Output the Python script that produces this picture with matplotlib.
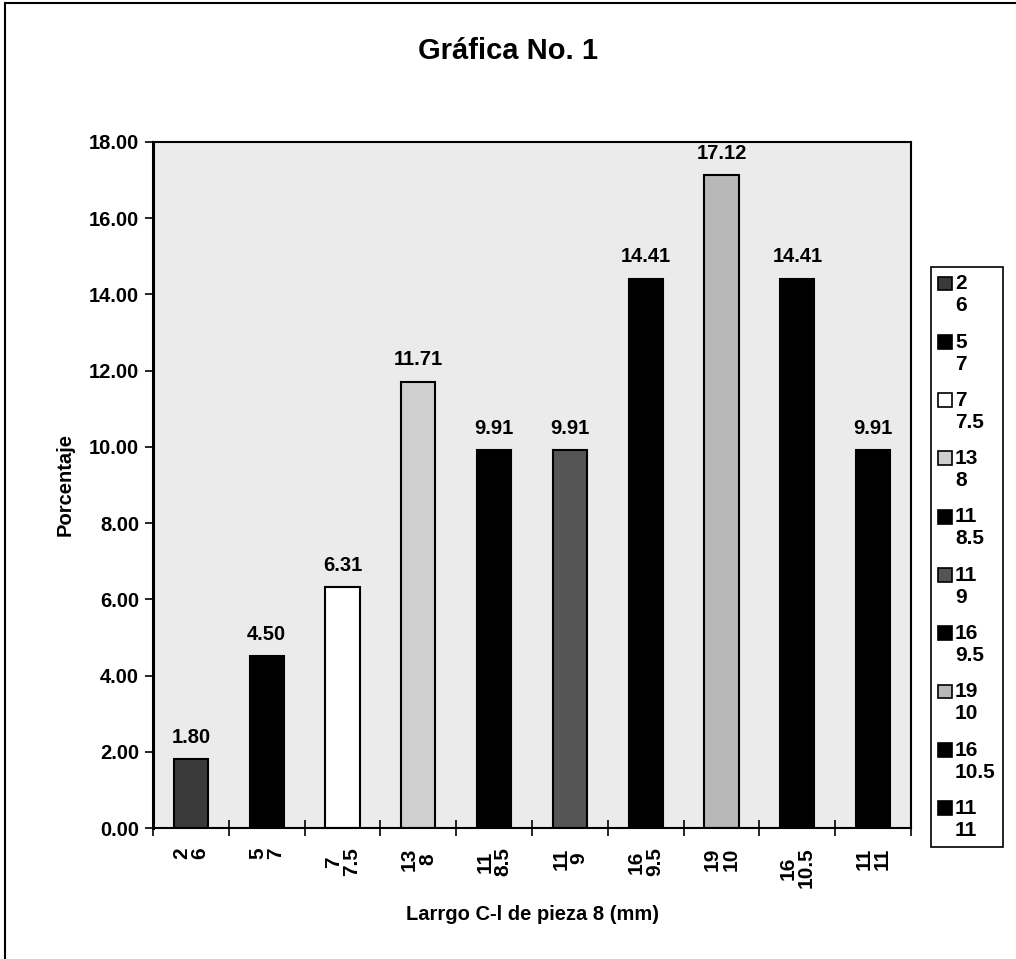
import matplotlib
matplotlib.use("Agg")
import matplotlib.pyplot as plt
from matplotlib.patches import Patch, Rectangle
from matplotlib.legend_handler import HandlerPatch
from matplotlib.lines import Line2D
import numpy as np

plt.rcParams["font.family"] = ["Liberation Sans", "DejaVu Sans"]
plt.rcParams["font.weight"] = "bold"

# frequency (first line) and length in mm (second line)
freq = ["2", "5", "7", "13", "11", "11", "16", "19", "16", "11"]
length = ["6", "7", "7.5", "8", "8.5", "9", "9.5", "10", "10.5", "11"]
pct = [1.80, 4.50, 6.31, 11.71, 9.91, 9.91, 14.41, 17.12, 14.41, 9.91]

fills = ["#3a3a3a", "black", "white", "#cfcfcf", "black",
         "#555555", "black", "#b8b8b8", "black", "black"]
labels = [f"{f}\n{l}" for f, l in zip(freq, length)]

FS = 14.5

fig = plt.figure(figsize=(10.16, 9.59), dpi=100)
ax = fig.add_axes([0.1506, 0.1366, 0.7461, 0.7154])
ax.set_facecolor("#ebebeb")

x = np.arange(len(pct))
bars = ax.bar(x, pct, width=0.45, color=fills, edgecolor="black", linewidth=1.5)
for b, v in zip(bars, pct):
    ax.text(b.get_x() + b.get_width() / 2, v + 0.33, f"{v:.2f}",
            ha="center", va="bottom", fontsize=FS, fontweight="bold")

ax.set_xlim(-0.5, len(pct) - 0.5)
ax.set_ylim(0, 18)
yt = np.arange(0, 18.01, 2)
ax.set_yticks(yt)
ax.set_yticklabels([f"{t:.2f}" for t in yt], fontsize=FS)
ax.tick_params(axis="y", direction="out", length=6, width=1.2, pad=4)

ax.set_xticks(x)
ax.set_xticklabels(labels, rotation=90, fontsize=15, multialignment="center",
                   linespacing=0.95)
ax.tick_params(axis="x", length=0, pad=14)
ax.set_xticks(np.arange(-0.5, len(pct), 1), minor=True)
ax.tick_params(axis="x", which="minor", direction="inout", length=12, width=1.2)

for side in ["top", "right", "bottom"]:
    ax.spines[side].set_linewidth(1.5)
ax.spines["left"].set_linewidth(2.2)

ax.set_ylabel("Porcentaje", fontsize=FS, fontweight="bold", labelpad=10)
ax.set_xlabel("Larrgo C-l de pieza 8 (mm)", fontsize=FS, fontweight="bold", labelpad=12)
fig.text(0.5, 0.947, "Gráfica No. 1", ha="center", va="center",
         fontsize=21, fontweight="bold")


def top_square(legend, orig_handle, xdescent, ydescent, width, height, fontsize):
    # keep the swatch level with the first text line
    return Rectangle((-xdescent, -ydescent + 0.55 * fontsize), width, height)


handles = [Patch(facecolor=c, edgecolor="black", linewidth=1.2) for c in fills]
leg = fig.legend(handles, labels, loc="upper left", bbox_to_anchor=(0.9163, 0.7216),
                 borderaxespad=0, fontsize=15, handlelength=0.65, handleheight=0.65,
                 handletextpad=0.15, labelspacing=0.83, borderpad=0.35,
                 fancybox=False, edgecolor="black", framealpha=1,
                 handler_map={Patch: HandlerPatch(patch_func=top_square)})
for t in leg.get_texts():
    t.set_linespacing(1.2)
leg.get_frame().set_linewidth(1.2)

# page border on left and top
fig.add_artist(Line2D([0.005, 0.005], [0, 0.997], color="black", lw=1.5,
                      transform=fig.transFigure))
fig.add_artist(Line2D([0.005, 1], [0.997, 0.997], color="black", lw=1.5,
                      transform=fig.transFigure))

fig.savefig("out.png", dpi=100)
